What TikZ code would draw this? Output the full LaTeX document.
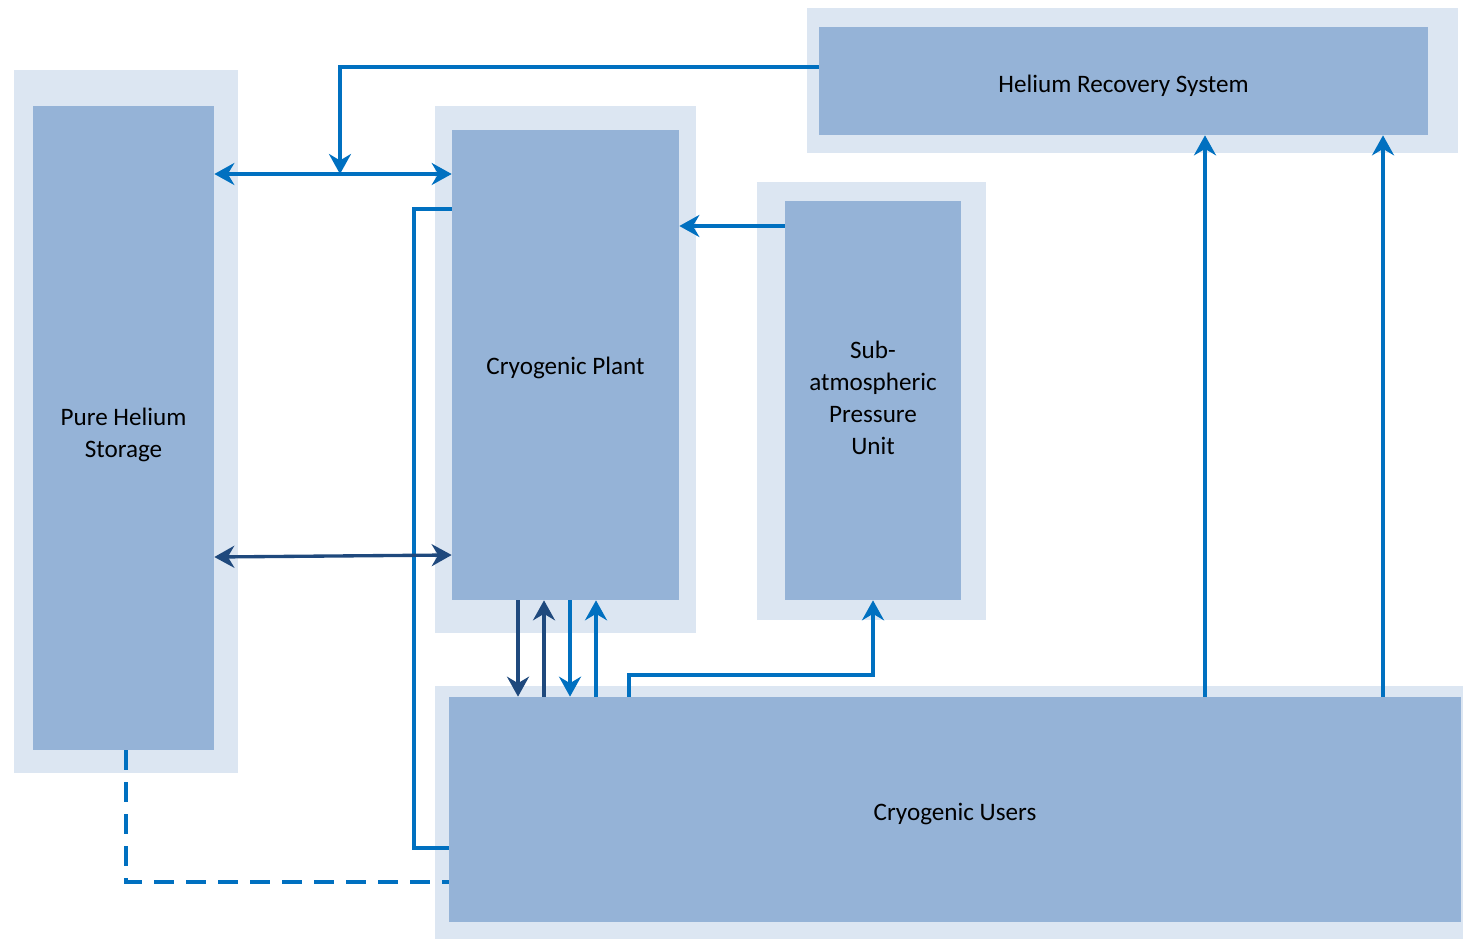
\documentclass[tikz,border=0pt]{standalone}
\usepackage{fontspec}
\setmainfont{Carlito}
\usetikzlibrary{arrows.meta,positioning}
\definecolor{boxblue}{RGB}{149,179,215}
\definecolor{haloblue}{RGB}{220,230,242}
\definecolor{linkblue}{RGB}{0,112,192}
\definecolor{navylink}{RGB}{31,73,125}
\tikzset{
  halo/.style={
    fill=haloblue,
    draw=none
  },
  unit/.style={
    fill=boxblue,
    draw=none,
    inner sep=0pt
  },
  caption/.style={
    align=center,
    inner sep=0pt,
    font=\fontsize{14.3}{18.2}\selectfont
  },
  link/.style={
    line width=1.9pt,
    linkblue
  },
  deeplink/.style={
    line width=1.9pt,
    navylink
  },
  >={Stealth[length=4mm,width=4.4mm]}
}

\begin{document}
\begin{tikzpicture}[x=0.02cm,y=-0.02cm]
\useasboundingbox (0,0) rectangle (1463,939);
% light frames
\fill[halo] (14,70) rectangle (238,773);
\fill[halo] (435,106) rectangle (696,633);
\fill[halo] (807,8) rectangle (1458,153);
\fill[halo] (757,182) rectangle (986,620);
\fill[halo] (435,686) rectangle (1463,939);
% blocks
\node[unit, minimum width=3.62cm, minimum height=12.88cm] (phs) at (123.5,428) {};
\node[unit, minimum width=4.54cm, minimum height=9.4cm] (plant) at (565.5,365) {};
\node[unit, minimum width=12.18cm, minimum height=2.16cm] (hrs) at (1123.5,81) {};
\node[unit, minimum width=3.52cm, minimum height=7.98cm] (spu) at (873,400.5) {};
\node[unit, minimum width=20.24cm, minimum height=4.5cm] (users) at (955,809.5) {};
% texts
\node[caption] (phstext) at ([yshift=-0.14cm]phs.center) {Pure Helium\\Storage};
\node[caption] (planttext) at ([yshift=-0.06cm]plant.center) {Cryogenic Plant};
\node[caption] (hrstext) at ([yshift=-0.1cm]hrs.center) {Helium Recovery System};
\node[caption] (sputext) at ([yshift=0.05cm]spu.center) {Sub-\\atmospheric\\Pressure\\Unit};
\node[caption] (userstext) at ([yshift=-0.1cm]users.center) {Cryogenic Users};
\coordinate (split) at (340,174);
% connectors
\draw[link,->] (hrs.west |- 0,67) -| (split);
\draw[link,<->] (phs.east |- split) -- (plant.west |- split);
\draw[link] (plant.west |- 0,209) -- (414,209) |- (users.west |- 0,848);
\draw[deeplink,<->] (phs.east |- 0,557) -- (plant.west |- 0,555);
\draw[link,->] (spu.west |- 0,226) -- (plant.east |- 0,226);
\draw[deeplink,->] (plant.south -| 518,0) -- (users.north -| 518,0);
\draw[deeplink,<-] (plant.south -| 544,0) -- (users.north -| 544,0);
\draw[link,->] (plant.south -| 570,0) -- (users.north -| 570,0);
\draw[link,<-] (plant.south -| 596,0) -- (users.north -| 596,0);
\draw[link,->] (users.north -| 629,0) |- (spu.south |- 0,675) -- (spu.south);
\draw[link,->] (users.north -| 1205,0) -- (hrs.south -| 1205,0);
\draw[link,->] (users.north -| 1383,0) -- (hrs.south -| 1383,0);
\draw[link,dash pattern=on 0.4cm off 0.24cm] (phs.south -| 126,0) |- (users.west |- 0,882);
\end{tikzpicture}
\end{document}
